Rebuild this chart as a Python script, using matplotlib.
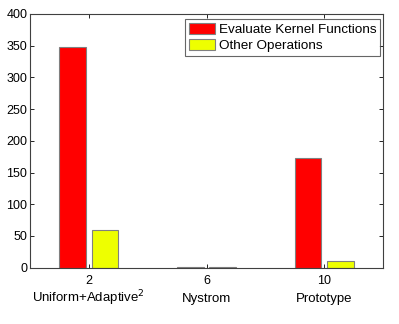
import matplotlib
matplotlib.use("Agg")
import matplotlib.pyplot as plt
import numpy as np

plt.rcParams['font.family'] = ['Liberation Sans', 'DejaVu Sans']

positions = [2, 6, 10]
categories = ["Uniform+Adaptive$^2$", "Nystrom", "Prototype"]
kernel_eval = [348, 0.8, 173]
other_ops = [59, 0.5, 11]
series_names = ["Evaluate Kernel Functions", "Other Operations"]

fig = plt.figure(figsize=(3.99, 3.24), dpi=100)
ax = fig.add_axes([30/399, 1-267.6/324, (383-30)/399, (267.6-14)/324])

x = np.array(positions, dtype=float)
w = 0.9
ax.bar(x - 0.55, kernel_eval, width=w, color='#FF0000', edgecolor='#808080', linewidth=0.8, label=series_names[0])
ax.bar(x + 0.55, other_ops, width=w, color='#EEFF00', edgecolor='#808080', linewidth=0.8, label=series_names[1])

ax.set_xlim(0, 12)
ax.set_ylim(0, 400)
ax.set_yticks(np.arange(0, 401, 50))
ax.set_xticks(positions)
ax.set_xticklabels([str(p) for p in positions], fontsize=9)
ax.tick_params(axis='y', labelsize=9, pad=2)
ax.tick_params(axis='x', pad=5)
ax.tick_params(direction='in', top=True, right=True, length=3, width=0.6)
for s in ax.spines.values():
    s.set_linewidth(0.8)
    s.set_color('#404040')

for p, c in zip(positions, categories):
    ax.text(p, -0.122, c, transform=ax.get_xaxis_transform(), ha='center', va='center', fontsize=9.5)

leg = ax.legend(loc='upper right', bbox_to_anchor=(0.992, 0.98), fontsize=9.7, frameon=True, fancybox=False,
                edgecolor='#404040', handlelength=1.94, handleheight=0.88, handletextpad=0.28,
                borderpad=0.3, labelspacing=0.22, borderaxespad=0.0)
leg.get_frame().set_linewidth(0.8)

fig.savefig("out.png", dpi=100)
